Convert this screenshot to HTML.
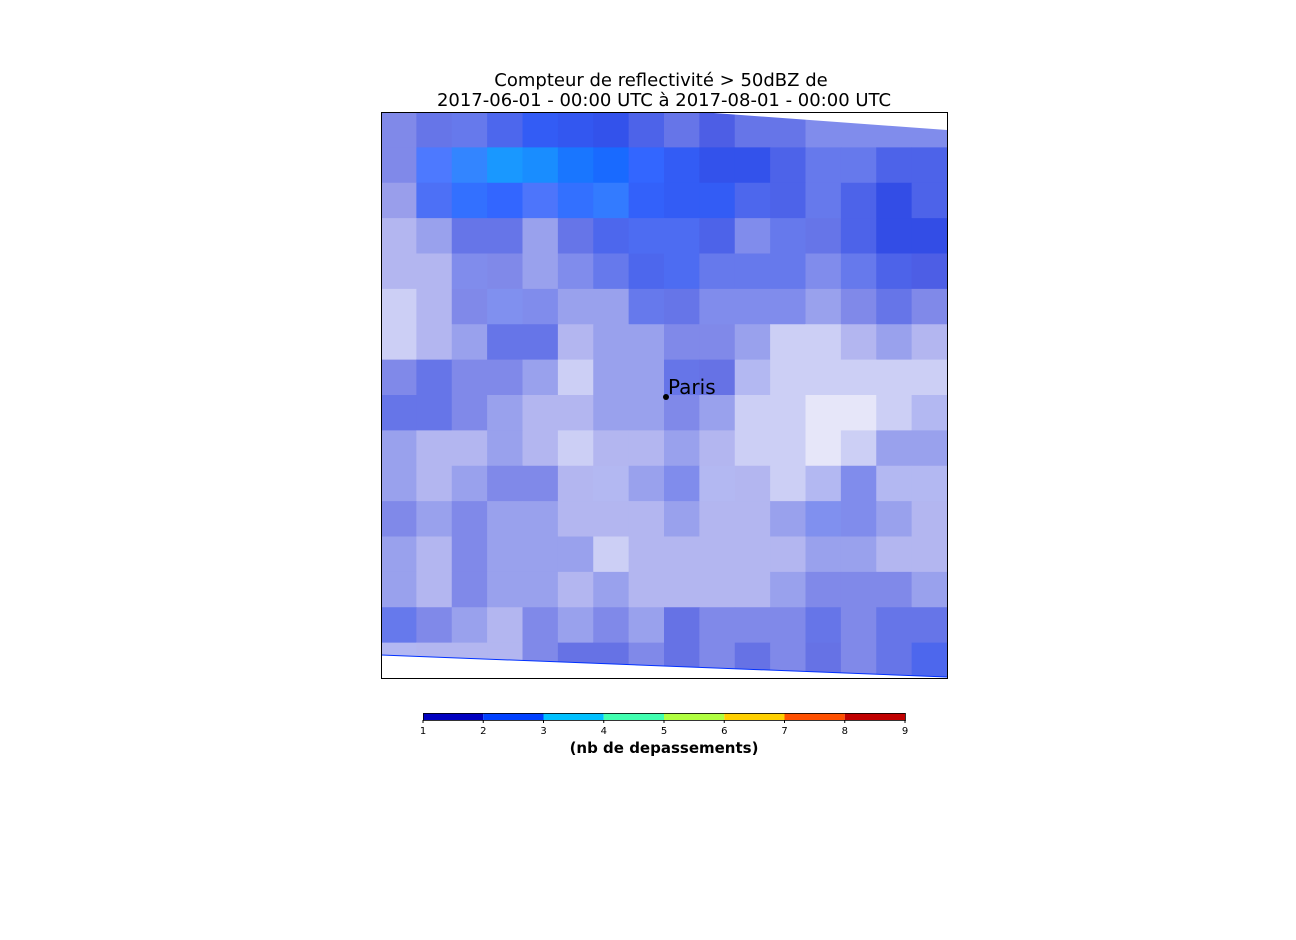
<!DOCTYPE html>
<html><head><meta charset="utf-8"><style>
body{margin:0;background:#fff;width:1296px;height:936px;overflow:hidden;font-family:"DejaVu Sans","Liberation Sans",sans-serif}
</style></head><body>
<svg id="chart" width="1296" height="936">
<text x="661" y="86" font-size="18" text-anchor="middle">Compteur de reflectivité &gt; 50dBZ de</text>
<text x="664" y="106" font-size="18" text-anchor="middle">2017-06-01 - 00:00 UTC à 2017-08-01 - 00:00 UTC</text>
<g id="map"></g>
<polygon points="381,112 700,112 947,130 947,112" fill="#fff"/>
<polygon points="381,655 947,677 947,678 381,678" fill="#fff"/>
<line x1="381" y1="655" x2="947" y2="677" stroke="#0030ff" stroke-width="1"/>
<circle cx="666" cy="397" r="3" fill="#000"/>
<text x="668" y="394" font-size="20" fill="#000">Paris</text>
<rect x="381.5" y="112.5" width="566" height="566" fill="none" stroke="#000" stroke-width="1"/>
<g id="cbar"></g>
<text x="664" y="753" font-size="15" font-weight="bold" text-anchor="middle">(nb de depassements)</text>
</svg>
<script>
const coverage = [
[.5,.6,.6,.7,.8,.8,.8,.7,.6,.7,.6,.6,.5,.5,.5,.5],
[.5,.7,.8,.9,.9,.9,.9,.8,.8,.8,.8,.7,.6,.6,.7,.7],
[.4,.7,.8,.8,.7,.8,.8,.8,.8,.8,.7,.7,.6,.7,.8,.7],
[.3,.4,.6,.6,.4,.6,.7,.7,.7,.7,.5,.6,.6,.7,.8,.8],
[.3,.3,.5,.5,.4,.5,.6,.7,.7,.6,.6,.6,.5,.6,.7,.7],
[.2,.3,.5,.5,.5,.4,.4,.6,.6,.5,.5,.5,.4,.5,.6,.5],
[.2,.3,.4,.6,.6,.3,.4,.4,.5,.5,.4,.2,.2,.3,.4,.3],
[.5,.6,.5,.5,.4,.2,.4,.4,.6,.6,.3,.2,.2,.2,.2,.2],
[.6,.6,.5,.4,.3,.3,.4,.4,.5,.4,.2,.2,.1,.1,.2,.3],
[.4,.3,.3,.4,.3,.2,.3,.3,.4,.3,.2,.2,.1,.2,.4,.4],
[.4,.3,.4,.5,.5,.3,.3,.4,.5,.3,.3,.2,.3,.5,.3,.3],
[.5,.4,.5,.4,.4,.3,.3,.3,.4,.3,.3,.4,.5,.5,.4,.3],
[.4,.3,.5,.4,.4,.4,.2,.3,.3,.3,.3,.3,.4,.4,.3,.3],
[.4,.3,.5,.4,.4,.3,.4,.3,.3,.3,.3,.4,.5,.5,.5,.4],
[.6,.5,.4,.3,.5,.4,.5,.4,.6,.5,.5,.5,.6,.5,.6,.6],
[.3,.3,.3,.3,.5,.6,.6,.5,.6,.5,.6,.5,.6,.5,.6,.7]];
const level = [
[1.3,1.4,1.5,1.6,1.8,1.7,1.6,1.5,1.4,1.4,1.4,1.4,1.4,1.4,1.4,1.4],
[1.3,2.0,2.3,2.6,2.5,2.3,2.2,2.0,1.8,1.6,1.6,1.5,1.5,1.5,1.5,1.5],
[1.2,1.8,2.1,2.0,1.9,2.1,2.2,1.9,1.8,1.8,1.6,1.5,1.5,1.5,1.5,1.5],
[1.2,1.3,1.4,1.4,1.3,1.4,1.6,1.7,1.7,1.5,1.4,1.5,1.4,1.5,1.5,1.5],
[1.2,1.2,1.4,1.3,1.3,1.4,1.5,1.6,1.7,1.5,1.5,1.5,1.4,1.5,1.5,1.4],
[1.2,1.2,1.3,1.5,1.4,1.3,1.3,1.5,1.4,1.4,1.4,1.4,1.3,1.3,1.4,1.3],
[1.2,1.2,1.3,1.4,1.4,1.2,1.3,1.3,1.3,1.3,1.3,1.2,1.2,1.2,1.3,1.2],
[1.3,1.4,1.3,1.3,1.3,1.2,1.3,1.3,1.4,1.3,1.3,1.2,1.2,1.2,1.2,1.2],
[1.4,1.4,1.3,1.3,1.2,1.2,1.3,1.3,1.3,1.3,1.2,1.2,1.1,1.1,1.2,1.3],
[1.3,1.2,1.2,1.3,1.2,1.2,1.2,1.2,1.3,1.2,1.2,1.2,1.1,1.2,1.3,1.3],
[1.3,1.2,1.3,1.3,1.3,1.2,1.3,1.3,1.4,1.3,1.2,1.2,1.3,1.4,1.3,1.3],
[1.3,1.3,1.3,1.3,1.3,1.2,1.2,1.2,1.3,1.2,1.2,1.3,1.5,1.4,1.3,1.2],
[1.3,1.2,1.3,1.3,1.3,1.3,1.2,1.2,1.2,1.2,1.2,1.2,1.3,1.3,1.2,1.2],
[1.3,1.2,1.3,1.3,1.3,1.2,1.3,1.2,1.2,1.2,1.2,1.3,1.3,1.3,1.3,1.3],
[1.5,1.3,1.3,1.2,1.3,1.3,1.3,1.3,1.3,1.3,1.3,1.3,1.4,1.3,1.4,1.4],
[1.3,1.2,1.2,1.2,1.3,1.3,1.3,1.3,1.3,1.3,1.3,1.3,1.3,1.3,1.4,1.6]];
const cbarTicks = [1,2,3,4,5,6,7,8,9];
const cbarColors = ["#0000c0","#0040ff","#00c0ff","#40ffb0","#b0ff40","#ffd000","#ff5000","#c00000"];

const NS="http://www.w3.org/2000/svg";
const px0=381,py0=112,pw=566,ph=566;
const nR=coverage.length,nC=coverage[0].length;
const xCell=c=>px0+c*pw/nC, yCell=r=>py0+r*ph/nR;
function hex(h){return [1,3,5].map(i=>parseInt(h.substr(i,2),16));}
function colorFor(lv,cov){
  const i=Math.min(7,Math.max(0,Math.floor(lv-1))), f=Math.min(1,Math.max(0,lv-1-i));
  const a=hex(cbarColors[i]), b=hex(cbarColors[Math.min(7,i+1)]);
  return a.map((v,k)=>Math.round((v*(1-f)+b[k]*f)*cov+255*(1-cov)));
}
const map=document.getElementById('map');
for(let r=0;r<nR;r++)for(let c=0;c<nC;c++){
  const rc=document.createElementNS(NS,'rect');
  rc.setAttribute('x',xCell(c));rc.setAttribute('y',yCell(r));
  rc.setAttribute('width',pw/nC+0.5);rc.setAttribute('height',ph/nR+0.5);
  const col=colorFor(level[r][c],coverage[r][c]);
  rc.setAttribute('fill',`rgb(${col.join(',')})`);
  
  
  map.appendChild(rc);
}
const cb=document.getElementById('cbar');
const cx0=423,cx1=905,cy=713,ch=7;
const cbX=v=>cx0+(v-cbarTicks[0])/(cbarTicks[cbarTicks.length-1]-cbarTicks[0])*(cx1-cx0);
cbarColors.forEach((col,i)=>{
  const r=document.createElementNS(NS,'rect');
  r.setAttribute('x',cbX(cbarTicks[i]));r.setAttribute('y',cy);
  r.setAttribute('width',cbX(cbarTicks[i+1])-cbX(cbarTicks[i]));r.setAttribute('height',ch);
  r.setAttribute('fill',col);
  
  
  cb.appendChild(r);
});
const fr=document.createElementNS(NS,'rect');
fr.setAttribute('x',cx0+0.5);fr.setAttribute('y',cy+0.5);fr.setAttribute('width',cx1-cx0);fr.setAttribute('height',ch);
fr.setAttribute('fill','none');fr.setAttribute('stroke','#000');fr.setAttribute('stroke-width','0.8');


cb.appendChild(fr);
cbarTicks.forEach(t=>{
  const l=document.createElementNS(NS,'line');
  l.setAttribute('x1',cbX(t));l.setAttribute('x2',cbX(t));l.setAttribute('y1',cy+ch);l.setAttribute('y2',cy+ch+3);
  l.setAttribute('stroke','#000');
  
  
  cb.appendChild(l);
  const tx=document.createElementNS(NS,'text');
  tx.setAttribute('x',cbX(t));tx.setAttribute('y',cy+ch+14);tx.setAttribute('font-size','10');tx.setAttribute('text-anchor','middle');
  tx.textContent=t;
  
  
  cb.appendChild(tx);
});
</script>
</body></html>
